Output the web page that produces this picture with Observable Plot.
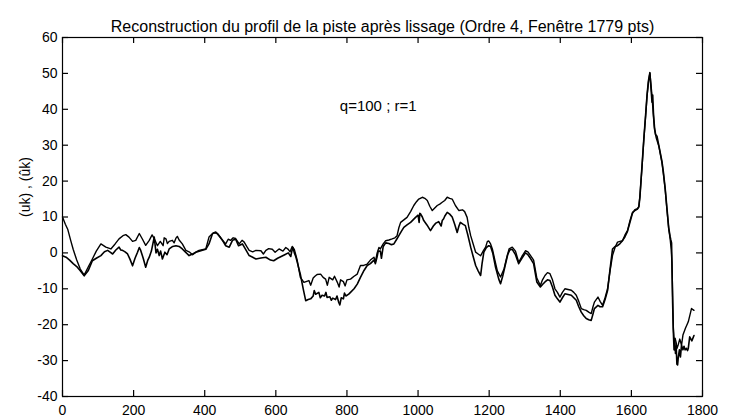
<!DOCTYPE html>
<html>
<head>
<meta charset="utf-8">
<script src="https://cdn.jsdelivr.net/npm/d3@7"></script>
<script src="https://cdn.jsdelivr.net/npm/@observablehq/plot@0.6"></script>
<style>
  html, body { margin: 0; padding: 0; background: white; }
</style>
</head>
<body>
<div id="chart"></div>
<script>
const titleText = "Reconstruction du profil de la piste après lissage (Ordre 4, Fenêtre 1779 pts)";
const yLabelText = "(uk) , (ûk)";
const annotations = [{x: 780, y: 41, text: "q=100 ; r=1"}];
const xTicks = [0, 200, 400, 600, 800, 1000, 1200, 1400, 1600, 1800];
const yTicks = [-40, -30, -20, -10, 0, 10, 20, 30, 40, 50, 60];

// Series A (upper trace)
const seriesA_x = [0,8,15,23,30,40,50,61,72,84,95,108,122,136,148,159,170,178,187,197,206,216,225,234,244,252,258,267,275,283,286,291,295,300,309,314,319,323,328,337,347,356,366,375,384,393,403,412,420,426,436,443,450,459,466,473,480,487,497,505,511,518,525,535,544,558,565,572,580,590,598,609,620,628,635,640,646,652,660,669,679,693,698,705,710,716,726,733,740,745,750,760,765,773,778,782,790,795,800,810,820,829,838,847,857,866,876,880,885,890,894,902,909,918,927,935,941,946,951,960,969,979,988,995,1002,1012,1019,1026,1033,1040,1047,1054,1061,1068,1075,1082,1089,1096,1105,1115,1125,1131,1138,1143,1148,1155,1162,1169,1176,1183,1190,1195,1199,1204,1209,1216,1223,1232,1242,1249,1256,1265,1274,1283,1292,1302,1309,1316,1325,1334,1344,1350,1357,1364,1371,1378,1385,1392,1399,1406,1413,1422,1431,1438,1445,1452,1459,1466,1473,1480,1487,1492,1496,1506,1512,1519,1526,1533,1540,1547,1554,1561,1568,1575,1582,1589,1596,1603,1610,1617,1621,1624,1630,1635,1640,1644,1648,1652,1655,1658,1662,1665,1670,1677,1686,1690,1695,1700,1705,1709,1712,1714,1716,1718,1720,1723,1726,1728,1732,1736,1741,1745,1752,1760,1769,1776];
const seriesA_y = [10,8,6.5,3.5,1,-2,-4.5,-6.2,-4,-1.7,0.5,2.5,1.6,1.1,2.5,3.9,4.8,5.1,4.4,3.2,3.5,5.4,3.8,2.1,3.5,5,4,2,3.2,2,4.2,3.9,2.6,3.2,3.5,2.8,4.1,4.6,3.6,2.5,0.7,0.3,-0.5,0.2,0.7,0.9,1.1,4.4,5.2,5.6,5.4,4.5,3.5,2.5,3.8,3.5,4.2,4,2.5,3.5,3,1.8,0.7,0.3,0.7,0.6,-0.3,0.7,1.2,1,0.2,1.1,0.5,1.5,1,0.3,1.8,1,-2,-6.8,-8.2,-7.7,-9,-7,-6.5,-6,-5.9,-6.8,-7.3,-9,-6.8,-7.5,-6.5,-8.2,-9.5,-7.5,-8,-9.2,-7.5,-7.3,-6.5,-5.9,-3.5,-3.5,-3.1,-2,-1.2,-2.5,0,1.5,1.1,2.5,3.4,3.6,3.9,4.2,4.8,7,8.5,9.2,9.9,11.5,13.2,14.2,15,15.5,15.2,14.6,13,11.8,12.5,13.2,13.6,14.1,14.6,15.5,15.2,15,13.2,11.8,12,11.5,9.9,7,4.8,2.5,0.2,-0.3,-0.8,0.5,1.6,3.2,3.3,2.5,1.1,-2,-5,-6.7,-4.4,-1.5,1.1,1.6,0.5,-2.6,-1,0.6,0.3,-0.7,-2,-7,-9.1,-7.5,-6.3,-5.5,-5.8,-7.5,-10,-11,-12.3,-11,-10,-10.2,-10.4,-11,-11.8,-13.5,-15.5,-15.8,-16,-16.5,-16.9,-15,-13.7,-12.3,-13.5,-14.6,-12.5,-10,-5,-0.7,1.5,3,3.2,3.4,5,6.2,9,11.3,11.8,12.2,13,15.9,24,31.6,38,43.6,47.5,50.1,47,43.6,38,34.4,32,29.8,25.1,22,17.7,12,6.7,3.9,1,-2.6,-12,-21,-24,-23.8,-25,-26.6,-25.5,-24,-25.7,-22.9,-21,-19.2,-15.5,-16];

// Series B (lower, noisier trace)
const seriesB_x = [0,10,20,30,40,50,61,72,84,95,108,118,127,134,141,150,159,164,169,176,183,190,197,204,211,216,220,227,234,240,244,250,258,263,267,272,276,281,288,294,300,310,319,328,337,346,356,366,375,389,403,412,422,431,440,450,459,469,478,487,495,506,515,525,535,544,558,572,585,594,605,615,625,635,642,646,648,652,656,660,669,677,684,691,698,705,708,712,721,725,730,737,741,744,752,756,760,768,772,777,780,784,790,793,797,805,810,820,829,838,848,857,866,876,880,885,888,894,897,902,909,918,925,932,940,946,953,960,969,979,986,993,1000,1003,1005,1007,1012,1016,1025,1035,1043,1050,1058,1065,1068,1072,1075,1082,1089,1096,1103,1110,1115,1119,1126,1133,1140,1148,1155,1162,1169,1176,1180,1185,1192,1199,1204,1210,1218,1227,1232,1238,1245,1252,1258,1265,1274,1283,1292,1302,1309,1316,1325,1334,1344,1350,1357,1364,1371,1378,1385,1392,1399,1406,1413,1422,1431,1438,1445,1452,1459,1466,1473,1480,1487,1492,1496,1506,1512,1519,1526,1533,1540,1547,1554,1561,1568,1575,1582,1589,1596,1603,1610,1617,1621,1624,1630,1635,1640,1644,1648,1652,1655,1658,1660,1662,1665,1668,1672,1677,1686,1690,1695,1700,1705,1709,1711,1713,1714,1716,1718,1720,1722,1724,1726,1728,1730,1732,1735,1738,1741,1745,1748,1751,1755,1758,1760,1764,1770,1776];
const seriesB_y = [-0.8,-1.2,-2,-3,-3.8,-5,-6.4,-5,-2.2,-1.5,-0.75,0.3,0.7,0.2,-0.3,0.8,1.6,0.8,0.7,0.3,-0.3,-1.8,-3.6,-1.5,0.2,1.5,0.7,-1.5,-4,-2,-1.2,0.5,4.4,0,1,-0.75,0.5,-1.7,0.2,-0.5,1.1,1.8,2,1.8,1.1,0.2,-0.75,-0.3,0.2,0.6,1,2.5,5.4,5.8,4.8,3.5,2,1.6,3.5,3.8,2,2.5,1,-0.75,-1.2,-1.7,-1.4,-1.2,-2,-2.2,-1.5,-1,-0.5,0,-1,1,1.5,0,-1,-2.5,-6,-10,-13.3,-13,-12.8,-12,-10.5,-11.5,-11,-12.5,-11.8,-12,-11,-12.4,-12.2,-13.2,-12.6,-13,-12,-13.8,-14.5,-12.5,-12.8,-11.2,-12,-11.5,-11,-10,-8.7,-6.8,-4.9,-3.5,-3,-2,-3,-1,0.5,0.5,-1.5,1.8,2.8,2.6,2.3,2.5,3.8,4.8,6,7.1,7.8,8.5,9.2,9.9,10.5,8.5,11,10.9,10,9,7.8,6.2,7.5,8.3,8.7,7.5,9,9.5,10.2,11.3,10.8,10,8,5.7,7.5,8.5,8,7.6,5,1.6,-1,-3.5,-5,-6.3,-3,0.2,1.5,2,1.8,0,-4,-7.3,-8.6,-6.5,-3.5,-0.5,0.8,1,-0.5,-3,-1.5,0,-0.5,-1.5,-3,-8.1,-9.5,-8.8,-8.1,-7.5,-7.7,-9.5,-11.8,-12.8,-13.7,-12.5,-11.4,-11.6,-11.8,-12.5,-13.2,-15,-16.5,-17.5,-18.3,-18.6,-18.8,-17,-15.5,-14.6,-15,-15,-13,-10.5,-4.5,1.1,1.8,2,2.6,3.4,4.5,6,8.5,11,12,12.3,12.8,15.5,24.5,31.8,38.5,44,48,50.2,46,42,44,39,35,33,32.5,30,25.5,22.5,18,12.5,7,4.5,3.6,2.8,-2.6,-14,-22,-27,-24,-28,-26,-31,-31.2,-29,-27,-29,-25.7,-27,-26,-27,-26.6,-27.2,-26.6,-23.4,-24.5,-23];

const seriesA = seriesA_x.map((x, i) => ({x, y: seriesA_y[i]}));
const seriesB = seriesB_x.map((x, i) => ({x, y: seriesB_y[i]}));

const W = 735, H = 418;
const mL = 62, mR = 33, mT = 37, mB = 22;
const frameW = W - mL - mR, frameH = H - mT - mB;
const tickPx = 6;

const plot = Plot.plot({
  width: W,
  height: H,
  marginLeft: mL,
  marginRight: mR,
  marginTop: mT,
  marginBottom: mB,
  style: {fontFamily: "'Liberation Sans', Arial, sans-serif", fontSize: "14px", background: "white", color: "black"},
  x: {domain: [0, 1800]},
  y: {domain: [-40, 60]},
  marks: [
    Plot.axisX(xTicks, {tickSize: 0, tickPadding: 9, label: null, fontSize: 14, tickFormat: d => String(d)}),
    Plot.axisY(yTicks, {tickSize: 0, tickPadding: 5, label: null, fontSize: 14, tickFormat: d => String(d)}),
    Plot.tickX(xTicks, {x: d => d, insetBottom: frameH - tickPx, stroke: "black", strokeWidth: 1.2}),
    Plot.tickX(xTicks, {x: d => d, insetTop: frameH - tickPx, stroke: "black", strokeWidth: 1.2}),
    Plot.tickY(yTicks, {y: d => d, insetRight: frameW - tickPx, stroke: "black", strokeWidth: 1.2}),
    Plot.tickY(yTicks, {y: d => d, insetLeft: frameW - tickPx, stroke: "black", strokeWidth: 1.2}),
    Plot.line(seriesA, {x: "x", y: "y", stroke: "black", strokeWidth: 1.4}),
    Plot.line(seriesB, {x: "x", y: "y", stroke: "black", strokeWidth: 1.6}),
    Plot.frame({stroke: "black", strokeWidth: 1.2}),
    Plot.text(annotations, {x: "x", y: "y", text: "text", textAnchor: "start", fontSize: 15}),
    Plot.text([titleText], {frameAnchor: "top", dy: -17, fontSize: 16}),
    Plot.text([yLabelText], {frameAnchor: "left", dx: -37, rotate: -90, fontSize: 14})
  ]
});
document.getElementById("chart").appendChild(plot);
</script>
</body>
</html>
